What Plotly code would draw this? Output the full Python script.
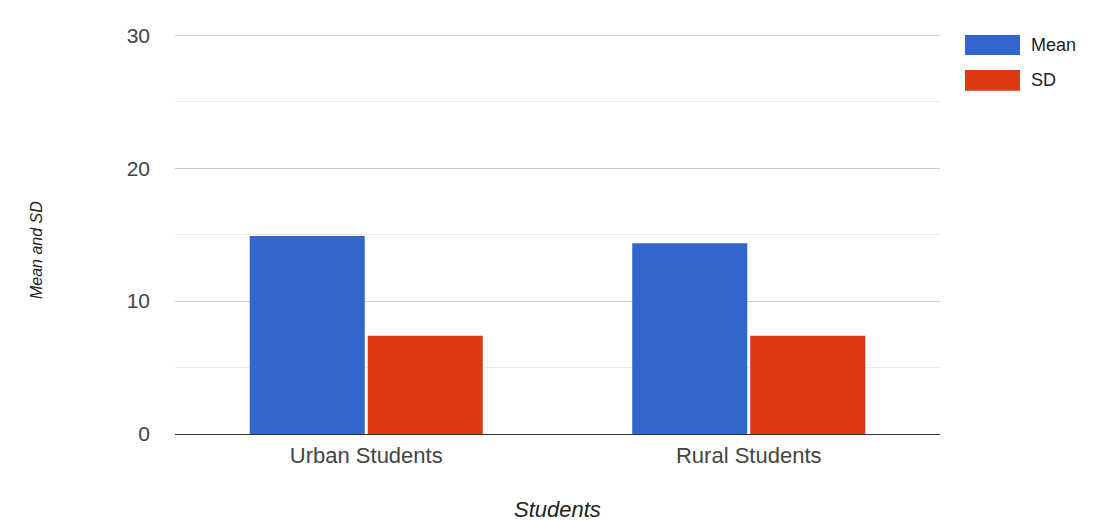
import plotly.graph_objects as go

categories = ["Urban Students", "Rural Students"]
series_names = ["Mean", "SD"]
mean_values = [14.9, 14.35]
sd_values = [7.4, 7.4]
series_colors = ["#3366CC", "#DC3912"]
y_tick_values = [0, 10, 20, 30]
y_tick_labels = ["0", "10", "20", "30"]
x_title = "Students"
y_title = "Mean and SD"

fig = go.Figure()
for name, vals, col in zip(series_names, [mean_values, sd_values], series_colors):
    fig.add_trace(go.Bar(x=categories, y=vals, name=name, marker=dict(color=col, line=dict(width=0)),
                         showlegend=False))

font_family = "Liberation Sans, Arial, sans-serif"
fig.update_layout(
    width=1093, height=513,
    margin=dict(l=167, r=161, t=27, b=87),
    paper_bgcolor="white", plot_bgcolor="white",
    barmode="group", bargap=0.383, bargroupgap=0.025,
    font=dict(family=font_family, color="#444444"),
    xaxis=dict(
        showgrid=False, showline=False, zeroline=False, automargin=False,
        tickfont=dict(size=22, color="#444444"),
        ticklabelstandoff=6,
    ),
    yaxis=dict(
        range=[0, 30.03], tickvals=y_tick_values, ticktext=y_tick_labels, automargin=False,
        showgrid=True, gridcolor="#cccccc", gridwidth=1,
        zeroline=True, zerolinecolor="#333333", zerolinewidth=1,
        minor=dict(dtick=5, showgrid=True, gridcolor="#ececec", gridwidth=1),
        tickfont=dict(size=21, color="#444444"),
        ticklabelstandoff=24,
    ),
)

# top gridline at the highest tick (drawn through the y scale)
fig.add_shape(type="line", xref="paper", yref="y", x0=0, x1=1,
              y0=max(y_tick_values), y1=max(y_tick_values),
              line=dict(color="#cccccc", width=1), layer="below")

# axis titles
fig.add_annotation(xref="paper", yref="paper", x=0.5, y=-0.188, text="<i>%s</i>" % x_title,
                   showarrow=False, xanchor="center", yanchor="middle",
                   font=dict(size=22, color="#222222"))
fig.add_annotation(xref="paper", yref="paper", x=-0.1817, y=0.461, text="<i>%s</i>" % y_title,
                   showarrow=False, xanchor="center", yanchor="middle", textangle=-90,
                   font=dict(size=16, color="#222222"))

# legend built from series names and colours
sw_y = [(1.0, 0.95), (0.912, 0.86)]
txt_y = [0.975, 0.886]
for name, col, (y1, y0), ty in zip(series_names, series_colors, sw_y, txt_y):
    fig.add_shape(type="rect", xref="paper", yref="paper", x0=1.0327, x1=1.1046, y0=y0, y1=y1,
                  fillcolor=col, line=dict(width=0))
    fig.add_annotation(xref="paper", yref="paper", x=1.116, y=ty, text=name, showarrow=False,
                       xanchor="left", yanchor="middle", font=dict(size=18, color="#222222"))

fig.write_html("out.html")
